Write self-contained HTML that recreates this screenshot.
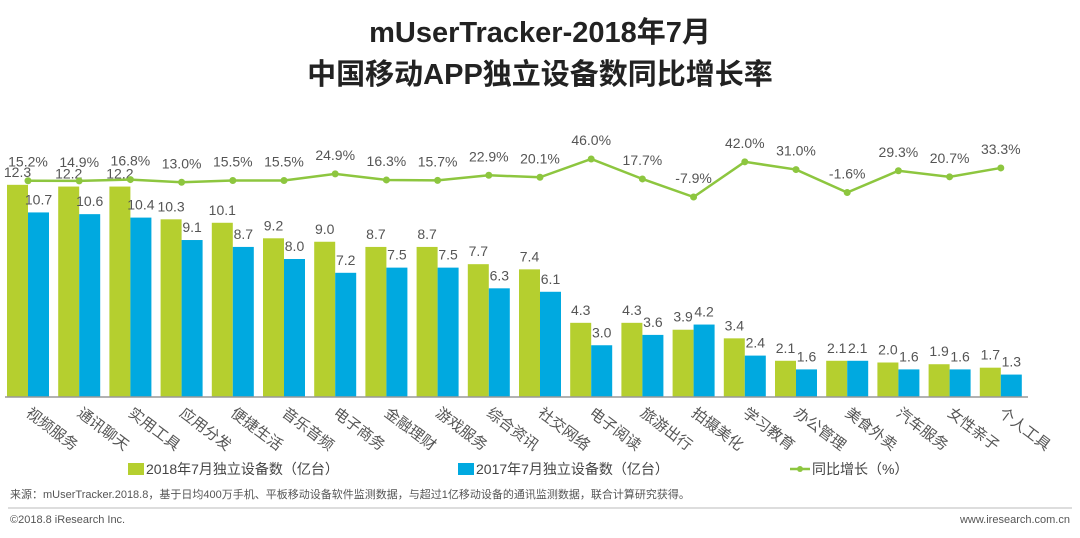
<!DOCTYPE html>
<html><head><meta charset="utf-8"><style>
body{margin:0;width:1080px;height:533px;background:#fff;overflow:hidden;font-family:"Liberation Sans","Noto Sans CJK SC",sans-serif}
svg text{font-family:"Liberation Sans","Noto Sans CJK SC",sans-serif}
</style></head><body>
<svg id="c" width="1080" height="533">
<text x="540" y="42" text-anchor="middle" font-size="29" font-weight="bold" fill="#222">mUserTracker-2018年7月</text>
<text x="540" y="84" text-anchor="middle" font-size="29" font-weight="bold" fill="#222">中国移动APP独立设备数同比增长率</text>
<g id="plot"></g>
<rect x="128" y="463" width="16" height="12" fill="#b5cf2f"/>
<text x="146" y="474" font-size="14" fill="#444">2018年7月独立设备数（亿台）</text>
<rect x="458" y="463" width="16" height="12" fill="#00a9e0"/>
<text x="476" y="474" font-size="14" fill="#444">2017年7月独立设备数（亿台）</text>
<line x1="790" y1="469" x2="810" y2="469" stroke="#8dc63f" stroke-width="2.5"/>
<circle cx="800" cy="469" r="3" fill="#8dc63f"/>
<text x="812" y="474" font-size="14" fill="#444">同比增长（%）</text>
<text x="10" y="498" font-size="11" fill="#555">来源：mUserTracker.2018.8，基于日均400万手机、平板移动设备软件监测数据，与超过1亿移动设备的通讯监测数据，联合计算研究获得。</text>
<line x1="8" y1="508" x2="1072" y2="508" stroke="#bbb" stroke-width="1"/>
<text x="10" y="523" font-size="11" fill="#555">©2018.8 iResearch  Inc.</text>
<text x="1070" y="523" text-anchor="end" font-size="11" fill="#555">www.iresearch.com.cn</text>
</svg>
<script>
const categories=["视频服务","通讯聊天","实用工具","应用分发","便捷生活","音乐音频","电子商务","金融理财","游戏服务","综合资讯","社交网络","电子阅读","旅游出行","拍摄美化","学习教育","办公管理","美食外卖","汽车服务","女性亲子","个人工具"];
const values2018=[12.3,12.2,12.2,10.3,10.1,9.2,9.0,8.7,8.7,7.7,7.4,4.3,4.3,3.9,3.4,2.1,2.1,2.0,1.9,1.7];
const values2017=[10.7,10.6,10.4,9.1,8.7,8.0,7.2,7.5,7.5,6.3,6.1,3.0,3.6,4.2,2.4,1.6,2.1,1.6,1.6,1.3];
const growth=[15.2,14.9,16.8,13.0,15.5,15.5,24.9,16.3,15.7,22.9,20.1,46.0,17.7,-7.9,42.0,31.0,-1.6,29.3,20.7,33.3];
const NS="http://www.w3.org/2000/svg";
const g=document.getElementById('plot');
const base=397,scale=17.25,x0=28,step=51.2,bw=21;
const yb=v=>base-v*scale;
const yl=v=>159+(46-v)*0.705;
const xc=i=>x0+i*step;
function mk(t,a){const e=document.createElementNS(NS,t);for(const k in a)e.setAttribute(k,a[k]);g.appendChild(e);return e;}
categories.forEach((c,i)=>{
  let r=mk('rect',{x:xc(i)-bw,y:yb(values2018[i]),width:bw,height:values2018[i]*scale,fill:'#b5cf2f'});
  
  
  r=mk('rect',{x:xc(i),y:yb(values2017[i]),width:bw,height:values2017[i]*scale,fill:'#00a9e0'});
  
  
  let t=mk('text',{x:xc(i)-bw/2,y:yb(values2018[i])-8,'text-anchor':'middle','font-size':14,fill:'#555'});
  t.textContent=values2018[i].toFixed(1);
  
  
  t=mk('text',{x:xc(i)+bw/2,y:yb(values2017[i])-8,'text-anchor':'middle','font-size':14,fill:'#555'});
  t.textContent=values2017[i].toFixed(1);
  
  
  t=mk('text',{x:0,y:0,'font-size':15,fill:'#555',transform:`translate(${xc(i)-3},${base+18}) rotate(37)`});
  t.textContent=c;
  
  
});
const ax=mk('line',{x1:5,y1:base,x2:1028,y2:base,stroke:'#999','stroke-width':1.5});


const pl=mk('polyline',{points:growth.map((v,i)=>xc(i)+','+yl(v)).join(' '),fill:'none',stroke:'#8dc63f','stroke-width':2.5});


growth.forEach((v,i)=>{
  const p=mk('circle',{cx:xc(i),cy:yl(v),r:3.5,fill:'#8dc63f'});
  
  
  const t=mk('text',{x:xc(i),y:yl(v)-14,'text-anchor':'middle','font-size':14,fill:'#555'});
  t.textContent=v.toFixed(1)+'%';
  
  
});
</script>
</body></html>
